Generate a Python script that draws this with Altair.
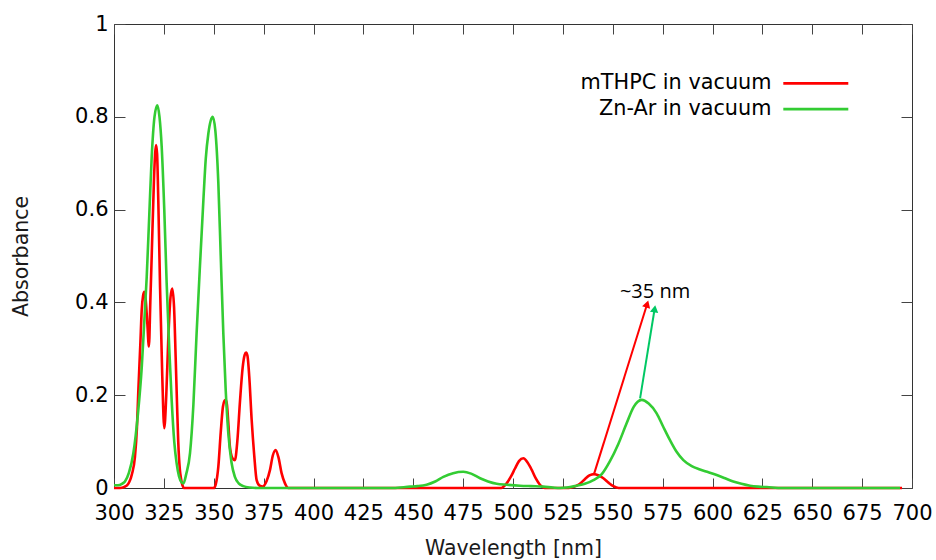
import math
import altair as alt
import pandas as pd

# ---------------- data ----------------
series_names = ["mTHPC in vacuum", "Zn-Ar in vacuum"]
series_colors = ["#ff0000", "#33cc33"]

mthpc_wl = [300, 303, 305, 307, 309, 310.5, 311.5, 312.2, 313.2, 313.9, 314.6, 315.2,
            315.9, 316.7, 317.5, 318.2, 318.9, 320, 320.6, 321.1, 321.6, 322.2, 323.1,
            324.2, 325.2, 326.2, 327.2, 328.3, 329.2, 330.1, 330.9, 331.6, 332.2, 333,
            333.6, 334.3, 335, 350, 351, 352.3, 353.5, 354.6, 355.4, 356, 356.6, 357.3,
            358.1, 359.3, 360.6, 361.8, 363.2, 364.5, 365.5, 366.2, 366.9, 367.8, 369,
            370.3, 371.5, 373, 374.5, 376.5, 378.2, 379.6, 381, 382.5, 384, 385.7, 387.4,
            494, 496.8, 499, 501, 503, 505.2, 507.3, 509.4, 511.5, 513.5, 516, 528, 531.9,
            534, 536, 538.3, 540.6, 543, 545.3, 548, 550.3, 553, 695]
mthpc_abs = [0, 0, 0.002, 0.008, 0.03, 0.067, 0.13, 0.21, 0.31, 0.384, 0.415, 0.423,
             0.405, 0.355, 0.305, 0.40, 0.50, 0.66, 0.72, 0.739, 0.72, 0.62, 0.43,
             0.24, 0.129, 0.20, 0.32, 0.41, 0.430, 0.39, 0.283, 0.18, 0.10, 0.04,
             0.02, 0.006, 0, 0, 0.008, 0.046, 0.12, 0.175, 0.188, 0.19, 0.18, 0.14,
             0.089, 0.065, 0.06, 0.10, 0.19, 0.26, 0.287, 0.292, 0.285, 0.24, 0.147,
             0.07, 0.017, 0.005, 0.003, 0.015, 0.039, 0.07, 0.082, 0.065, 0.032, 0.01, 0,
             0, 0.01, 0.025, 0.042, 0.058, 0.064, 0.055, 0.039, 0.02, 0.007, 0, 0, 0.005,
             0.011, 0.019, 0.027, 0.030, 0.027, 0.021, 0.011, 0.004, 0, 0]

znar_wl = [300, 302, 304, 305.5, 307.5, 309.7, 312, 313.9, 315.2, 316.4, 317.7, 318.9,
           320.3, 321.7, 322.8, 323.9, 325.2, 326.4, 327.7, 328.9, 330.2, 331.4, 332.6,
           333.9, 334.8, 336.2, 338.1, 339.8, 341.4, 343.1, 344.8, 346, 347.3, 348.5,
           349.5, 350.8, 352.3, 353.5, 354.8, 356, 357.3, 358.9, 360.6, 362.5, 364.8,
           368, 372, 440, 448.4, 452, 456.7, 461, 465.1, 470, 475.1, 479, 483.5, 487.5,
           491.8, 497, 503.5, 509, 515.2, 520, 523.6, 527, 531.9, 536, 540.3, 544.5,
           548.6, 552.8, 557, 560.5, 562.5, 564.5, 568, 572, 575.3, 578.7, 582, 585.4,
           589.6, 593.7, 598, 602.1, 606.3, 610.4, 614.5, 618.8, 623, 627.2, 635, 694]
znar_abs = [0.006, 0.006, 0.009, 0.014, 0.033, 0.075, 0.16, 0.26, 0.36, 0.455, 0.59, 0.714,
            0.80, 0.825, 0.80, 0.736, 0.60, 0.441, 0.30, 0.19, 0.10, 0.053, 0.025,
            0.012, 0.010, 0.03, 0.075, 0.18, 0.333, 0.48, 0.62, 0.71, 0.764, 0.792,
            0.80, 0.77, 0.657, 0.50, 0.333, 0.21, 0.118, 0.055, 0.024, 0.01, 0.004,
            0.001, 0, 0, 0.003, 0.004, 0.007, 0.014, 0.024, 0.032, 0.035, 0.031, 0.021, 0.014,
            0.009, 0.007, 0.005, 0.004, 0.003, 0.001, 0, 0.001, 0.005, 0.009, 0.017, 0.03,
            0.058, 0.095, 0.14, 0.175, 0.186, 0.19, 0.182, 0.161, 0.132, 0.103, 0.078, 0.06,
            0.047, 0.040, 0.034, 0.028, 0.021, 0.014, 0.009, 0.005, 0.003, 0.002, 0, 0]

x_ticks = [300, 325, 350, 375, 400, 425, 450, 475, 500, 525, 550, 575, 600, 625, 650, 675, 700]
y_ticks = [0, 0.2, 0.4, 0.6, 0.8, 1]

# annotation arrows (start at a band maximum, tip near the label)
arrow_x0 = [540.6, 563.7]
arrow_y0 = [0.030, 0.193]
arrow_x1 = [567.8, 571.3]
arrow_y1 = [0.404, 0.394]
arrow_colors = ["#ff0000", "#00c864"]

note_text = ["~35 nm"]
note_x = [571.2]
note_y = [0.41]

# ---------------- layout ----------------
W, H = 798, 464
X_DOM = [300, 700]
Y_DOM = [0, 1]
FONT = "DejaVu Sans"
HEAD_SIZE = 70

xs = alt.Scale(domain=X_DOM, nice=False, zero=False)
ys = alt.Scale(domain=Y_DOM, nice=False, zero=False)

spec = pd.DataFrame({
    "wl": mthpc_wl + znar_wl,
    "absb": mthpc_abs + znar_abs,
    "series": [series_names[0]] * len(mthpc_wl) + [series_names[1]] * len(znar_wl),
})

# arrow geometry derived from the data through the pixel scale
px_x = W / (X_DOM[1] - X_DOM[0])
px_y = H / (Y_DOM[1] - Y_DOM[0])
half_h = math.sqrt(3) / 2 * math.sqrt(HEAD_SIZE) / 2
rows = []
for x0, y0, x1, y1, c in zip(arrow_x0, arrow_y0, arrow_x1, arrow_y1, arrow_colors):
    dx, dy = (x1 - x0) * px_x, (y1 - y0) * px_y
    ln = math.hypot(dx, dy)
    ux, uy = dx / ln, dy / ln
    rows.append({
        "x0": x0, "y0": y0,
        "xh": x1 - half_h * ux / px_x, "yh": y1 - half_h * uy / px_y,
        "ang": math.degrees(math.atan2(dx, dy)), "color": c,
    })
arrows = pd.DataFrame(rows)
notes = pd.DataFrame({"t": note_text, "x": note_x, "y": note_y})

x_axis = alt.Axis(orient="bottom", values=x_ticks, offset=-10, tickSize=10, domain=False,
                  grid=False, labelPadding=14, labelFont=FONT, labelFontSize=21,
                  labelColor="#000000", labelOverlap=False, labelFlush=False,
                  title="Wavelength [nm]", titleFont=FONT, titleFontSize=20.5,
                  titleFontWeight="normal", titleColor="#1a1a1a", titlePadding=15,
                  tickColor="#444444", tickWidth=1)
y_axis = alt.Axis(orient="left", values=y_ticks, format="~g", offset=-11, tickSize=11,
                  domain=False, grid=False, labelPadding=6, labelFont=FONT, labelFontSize=21,
                  labelColor="#000000", labelOverlap=False, labelFlush=False,
                  title="Absorbance", titleFont=FONT, titleFontSize=20.5,
                  titleFontWeight="normal", titleColor="#1a1a1a", titlePadding=43,
                  tickColor="#444444", tickWidth=1)
x_mirror = alt.Axis(orient="top", values=x_ticks, offset=-10, tickSize=10, domain=False,
                    grid=False, labels=False, title=None, tickColor="#444444", tickWidth=1)
y_mirror = alt.Axis(orient="right", values=y_ticks, offset=-11, tickSize=11, domain=False,
                    grid=False, labels=False, title=None, tickColor="#444444", tickWidth=1)

lines = alt.Chart(spec).mark_line(strokeWidth=2.6, interpolate="monotone").encode(
    x=alt.X("wl:Q", scale=xs, axis=x_axis),
    y=alt.Y("absb:Q", scale=ys, axis=y_axis),
    color=alt.Color("series:N", sort=series_names,
                    scale=alt.Scale(domain=series_names, range=series_colors),
                    legend=alt.Legend(title=None, orient="none", legendX=691.4, legendY=49,
                                      symbolType="M-4,0L4,0", symbolSize=264,
                                      symbolStrokeWidth=2.6, labelAlign="right",
                                      labelOffset={"expr": "-54.7"}, labelFont=FONT,
                                      labelFontSize=20.8, labelColor="#000000",
                                      labelLimit=400, rowPadding=3.7, padding=0)),
    detail="series:N",
)

arrow_lines = alt.Chart(arrows).mark_rule(strokeWidth=2).encode(
    x=alt.X("x0:Q", scale=xs, axis=None),
    y=alt.Y("y0:Q", scale=ys, axis=None),
    x2="xh:Q", y2="yh:Q",
    color=alt.Color("color:N", scale=None),
)
arrow_heads = alt.Chart(arrows).mark_point(shape="triangle-up", filled=True, size=HEAD_SIZE,
                                           opacity=1).encode(
    x=alt.X("xh:Q", scale=xs, axis=None),
    y=alt.Y("yh:Q", scale=ys, axis=None),
    angle=alt.Angle("ang:Q", scale=None),
    color=alt.Color("color:N", scale=None),
)
note = alt.Chart(notes).mark_text(font="Open Sans", fontSize=20, align="center",
                                  baseline="alphabetic", color="#000000").encode(
    x=alt.X("x:Q", scale=xs, axis=x_mirror),
    y=alt.Y("y:Q", scale=ys, axis=y_mirror),
    text="t:N",
)

chart = alt.layer(lines, arrow_lines, arrow_heads, note).resolve_axis(
    x="independent", y="independent"
).properties(
    width=W, height=H,
    padding={"left": 114, "top": 24, "right": 24, "bottom": 72},
    autosize=alt.AutoSizeParams(type="none"),
    background="#ffffff",
).configure_view(stroke="#333333", strokeWidth=1)

chart.save("out.html", embed_options={"renderer": "svg", "actions": False})
